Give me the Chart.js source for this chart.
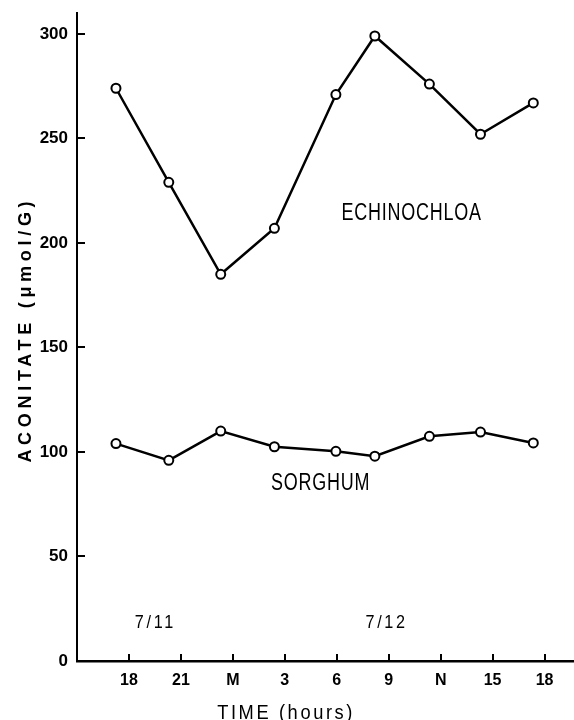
<!DOCTYPE html>
<html>
<head>
<meta charset="utf-8">
<script src="https://cdn.jsdelivr.net/npm/chart.js@4/dist/chart.umd.min.js"></script>
<style>
  html, body { margin: 0; padding: 0; background: #fff; }
  #wrap { width: 574px; height: 720px; position: relative; }
</style>
</head>
<body>
<div id="wrap"><canvas id="c" width="574" height="720"></canvas></div>
<script>
// Sampling times, in hours after 18:00 on 7/11
const timeHours = [-0.75, 2.3, 5.3, 8.4, 11.95, 14.2, 17.35, 20.3, 23.35];
// Aconitate content (umol/g)
const echinochloa = [274, 229, 185, 207, 271, 299, 276, 252, 267];
const sorghum = [104, 96, 110, 102.5, 100.3, 98, 107.5, 109.5, 104.3];
// Axis ticks
const xTickHours = [0, 3, 6, 9, 12, 15, 18, 21, 24];
const xTickLabels = ['18', '21', 'M', '3', '6', '9', 'N', '15', '18'];
const yTicks = [0, 50, 100, 150, 200, 250, 300];
// Text labels inside the plot (data coordinates)
const seriesLabels = [
  { text: 'ECHINOCHLOA', x: 16.3, y: 214 },
  { text: 'SORGHUM', x: 11.05, y: 85 }
];
const dateLabels = [
  { text: '7/11', x: 1.45, y: 18 },
  { text: '7/12', x: 14.8, y: 18 }
];
const xTitle = 'TIME (hours)';
const yTitle = 'ACONITATE (\u03BCmol/G)';

const FONT = "'Liberation Sans', Arial, Helvetica, sans-serif";

const toPoints = (vals) => vals.map((v, i) => ({ x: timeHours[i], y: v }));

function drawText(ctx, text, cx, cy, font, spacing, sx) {
  ctx.save();
  ctx.font = font;
  ctx.letterSpacing = spacing + 'px';
  ctx.textAlign = 'center';
  ctx.textBaseline = 'middle';
  ctx.translate(cx + spacing * sx / 2, cy);
  ctx.scale(sx, 1);
  ctx.fillText(text, 0, 0);
  ctx.restore();
}

const decorations = {
  id: 'decorations',
  afterDraw(chart) {
    const { ctx, chartArea, scales } = chart;
    const xs = scales.x, ys = scales.y;
    ctx.save();
    // inward tick marks
    ctx.strokeStyle = '#000';
    ctx.lineWidth = 2;
    ctx.beginPath();
    ys.ticks.forEach(t => {
      const py = Math.round(ys.getPixelForValue(t.value));
      ctx.moveTo(chartArea.left, py);
      ctx.lineTo(chartArea.left + 8, py);
    });
    xs.ticks.forEach(t => {
      const px = Math.round(xs.getPixelForValue(t.value));
      ctx.moveTo(px, chartArea.bottom);
      ctx.lineTo(px, chartArea.bottom - 7);
    });
    ctx.stroke();

    ctx.fillStyle = '#000';
    seriesLabels.forEach(l => drawText(ctx, l.text, xs.getPixelForValue(l.x), ys.getPixelForValue(l.y), '23px ' + FONT, 1, 0.78));
    dateLabels.forEach(l => drawText(ctx, l.text, xs.getPixelForValue(l.x), ys.getPixelForValue(l.y), '18px ' + FONT, 3, 0.9));
    drawText(ctx, xTitle, xs.getPixelForValue(9), chartArea.bottom + 52, '21px ' + FONT, 3, 0.87);

    // y axis title (rotated)
    ctx.save();
    ctx.translate(26, (chartArea.top + chartArea.bottom) / 2 - 5);
    ctx.rotate(-Math.PI / 2);
    drawText(ctx, yTitle, 0, 0, 'bold 18px ' + FONT, 4.7, 1);
    ctx.restore();
    ctx.restore();
  }
};

new Chart(document.getElementById('c'), {
  type: 'line',
  data: {
    datasets: [
      {
        label: 'ECHINOCHLOA',
        data: toPoints(echinochloa),
        borderColor: '#000',
        borderWidth: 2.5,
        pointRadius: 4.5,
        pointBorderWidth: 2,
        pointBackgroundColor: '#fff',
        pointBorderColor: '#000',
        tension: 0
      },
      {
        label: 'SORGHUM',
        data: toPoints(sorghum),
        borderColor: '#000',
        borderWidth: 2.5,
        pointRadius: 4.5,
        pointBorderWidth: 2,
        pointBackgroundColor: '#fff',
        pointBorderColor: '#000',
        tension: 0
      }
    ]
  },
  options: {
    responsive: false,
    animation: false,
    layout: { autoPadding: false, padding: { top: 13, right: 0, bottom: 0, left: 0 } },
    plugins: { legend: { display: false }, tooltip: { enabled: false } },
    scales: {
      x: {
        type: 'linear',
        min: -3,
        max: 25.7,
        afterBuildTicks: (s) => { s.ticks = xTickHours.map(v => ({ value: v })); },
        afterFit: (s) => { s.height = 59; s.paddingLeft = 0; s.paddingRight = 0; },
        grid: { display: true, drawOnChartArea: false, drawTicks: false },
        border: { display: true, color: '#000', width: 2.5 },
        ticks: {
          autoSkip: false,
          maxRotation: 0,
          padding: 10,
          color: '#000',
          font: { family: FONT, size: 16, weight: 'bold' },
          callback: (v) => { const i = xTickHours.indexOf(v); return i >= 0 ? xTickLabels[i] : ''; }
        }
      },
      y: {
        min: 0,
        max: 310,
        afterBuildTicks: (s) => { s.ticks = yTicks.map(v => ({ value: v })); },
        afterFit: (s) => { s.width = 77; s.paddingTop = 0; s.paddingBottom = 0; },
        grid: { display: true, drawOnChartArea: false, drawTicks: false },
        border: { display: true, color: '#000', width: 2 },
        ticks: {
          padding: 9,
          color: '#000',
          font: { family: FONT, size: 17, weight: 'bold' }
        }
      }
    }
  },
  plugins: [decorations]
});
</script>
</body>
</html>
